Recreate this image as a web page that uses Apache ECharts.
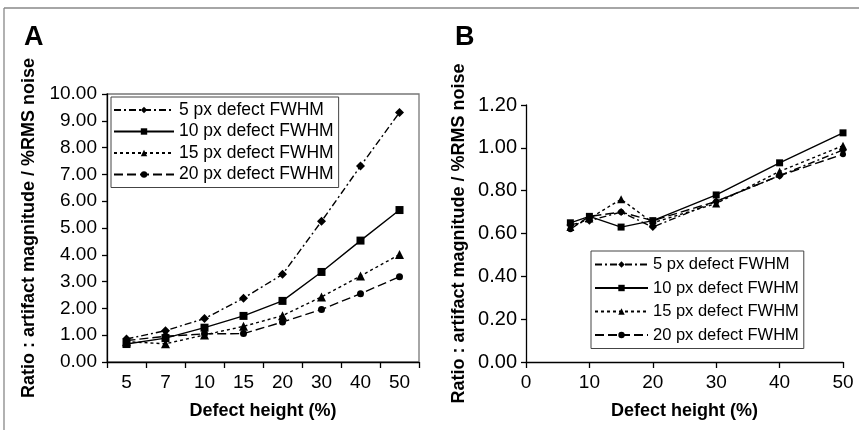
<!DOCTYPE html>
<html>
<head>
<meta charset="utf-8">
<script src="https://cdn.jsdelivr.net/npm/echarts@6/dist/echarts.min.js"></script>
<style>
html,body{margin:0;padding:0;background:#fff;}
#c{width:859px;height:430px;}
</style>
</head>
<body>
<div id="c"></div>
<script>
// ---- Data ----
const seriesNames = ['5 px defect FWHM', '10 px defect FWHM', '15 px defect FWHM', '20 px defect FWHM'];

// Panel A (categorical defect heights)
const heightsA = ['5', '7', '10', '15', '20', '30', '40', '50'];
const a5px  = [0.86, 1.17, 1.62, 2.38, 3.27, 5.25, 7.31, 9.31];
const a10px = [0.67, 0.89, 1.28, 1.72, 2.28, 3.36, 4.53, 5.67];
const a15px = [0.76, 0.68, 1.01, 1.33, 1.73, 2.43, 3.21, 4.01];
const a20px = [0.80, 0.96, 1.05, 1.06, 1.49, 1.96, 2.55, 3.18];
const yTicksA = [0, 1, 2, 3, 4, 5, 6, 7, 8, 9, 10];

// Panel B (numeric defect heights)
const heightsB = [7, 10, 15, 20, 30, 40, 50];
const b5px  = [0.64, 0.66, 0.70, 0.63, 0.75, 0.87, 0.99];
const b10px = [0.65, 0.68, 0.63, 0.66, 0.78, 0.93, 1.07];
const b15px = [0.63, 0.67, 0.76, 0.65, 0.74, 0.89, 1.01];
const b20px = [0.62, 0.68, 0.70, 0.66, 0.75, 0.87, 0.97];
const yTicksB = [0, 0.2, 0.4, 0.6, 0.8, 1.0, 1.2];
const xTicksB = [0, 10, 20, 30, 40, 50];

const yTitle = 'Ratio : artifact magnitude / %RMS noise';
const xTitle = 'Defect height (%)';

// ---- Styles ----
const FONT = '"Liberation Sans", Arial, sans-serif';
const styles = [
  { symbol: 'diamond', symbolSize: 9, dash: [7, 3, 2, 3] },
  { symbol: 'rect', symbolSize: 8, dash: 'solid' },
  { symbol: 'triangle', symbolSize: 9, dash: [3, 3] },
  { symbol: 'circle', symbolSize: 7, dash: [9, 4] }
];

const dataA = [a5px, a10px, a15px, a20px];
const dataB = [b5px, b10px, b15px, b20px];

const series = [];
seriesNames.forEach((n, i) => {
  series.push({
    name: n, type: 'line', xAxisIndex: 0, yAxisIndex: 0,
    data: dataA[i],
    symbol: styles[i].symbol, symbolSize: styles[i].symbolSize,
    lineStyle: { color: '#000', width: 1.4, type: styles[i].dash },
    itemStyle: { color: '#000' },
    animation: false
  });
});
seriesNames.forEach((n, i) => {
  series.push({
    name: n, type: 'line', xAxisIndex: 1, yAxisIndex: 1,
    data: heightsB.map((x, j) => [x, dataB[i][j]]),
    symbol: styles[i].symbol, symbolSize: styles[i].symbolSize - 1,
    lineStyle: { color: '#000', width: 1.4, type: styles[i].dash },
    itemStyle: { color: '#000' },
    animation: false
  });
});

const axisLine = { show: true, lineStyle: { color: '#000', width: 1.3 } };
const axisTickOut = { show: true, inside: false, length: 5, lineStyle: { color: '#000', width: 1.3 } };
const labelStyle = { color: '#000', fontSize: 19, fontFamily: FONT };
const nameStyle = { color: '#000', fontSize: 18, fontWeight: 'bold', fontFamily: FONT };

const option = {
  backgroundColor: '#fff',
  animation: false,
  textStyle: { fontFamily: FONT },
  title: [
    { text: 'A', left: 19, top: 19, textStyle: { fontSize: 27, fontWeight: 'bold', color: '#000', fontFamily: FONT } },
    { text: 'B', left: 450, top: 19, textStyle: { fontSize: 27, fontWeight: 'bold', color: '#000', fontFamily: FONT } }
  ],
  graphic: [
    { type: 'line', shape: { x1: 4, y1: 8, x2: 859, y2: 8 }, style: { stroke: '#888', lineWidth: 1.3 } },
    { type: 'line', shape: { x1: 4, y1: 8, x2: 4, y2: 430 }, style: { stroke: '#888', lineWidth: 1.3 } }
  ],
  legend: [
    {
      data: seriesNames, orient: 'vertical', left: 111, top: 97,
      itemWidth: 60, itemHeight: 8, itemGap: 3.5,
      padding: [4, 5, 4, 2],
      borderColor: '#444', borderWidth: 1,
      textStyle: { color: '#000', fontSize: 17.5, fontFamily: FONT }
    },
    {
      data: seriesNames, orient: 'vertical', left: 591, top: 251,
      itemWidth: 53, itemHeight: 8, itemGap: 6.5,
      padding: [5, 5, 5, 3],
      borderColor: '#444', borderWidth: 1,
      textStyle: { color: '#000', fontSize: 16.5, fontFamily: FONT }
    }
  ],
  grid: [
    { left: 107, right: 440, top: 94, bottom: 68, show: true, borderColor: '#777', borderWidth: 1.3, containLabel: false },
    { left: 526, right: 16, top: 105, bottom: 68, containLabel: false }
  ],
  xAxis: [
    {
      gridIndex: 0, type: 'category', data: heightsA, boundaryGap: true,
      axisLine: axisLine, axisTick: Object.assign({}, axisTickOut, { length: 6 }),
      axisLabel: Object.assign({}, labelStyle, { margin: 11, interval: 0 }),
      splitLine: { show: false },
      name: xTitle, nameLocation: 'middle', nameGap: 40, nameTextStyle: nameStyle
    },
    {
      gridIndex: 1, type: 'value', min: 0, max: 50, interval: 10,
      axisLine: axisLine, axisTick: Object.assign({}, axisTickOut, { length: 6 }),
      axisLabel: Object.assign({}, labelStyle, { margin: 11,
        customValues: xTicksB }),
      splitLine: { show: false },
      name: xTitle, nameLocation: 'middle', nameGap: 40, nameTextStyle: nameStyle
    }
  ],
  yAxis: [
    {
      gridIndex: 0, type: 'value', min: yTicksA[0], max: yTicksA[yTicksA.length - 1], interval: 1,
      axisLine: axisLine, axisTick: axisTickOut,
      axisLabel: Object.assign({}, labelStyle, { margin: 10, formatter: v => v.toFixed(2) }),
      splitLine: { show: false },
      name: yTitle, nameLocation: 'middle', nameGap: 69, nameTextStyle: nameStyle
    },
    {
      gridIndex: 1, type: 'value', min: yTicksB[0], max: yTicksB[yTicksB.length - 1], interval: 0.2,
      axisLine: axisLine, axisTick: axisTickOut,
      axisLabel: Object.assign({}, labelStyle, { margin: 9, fontSize: 20, formatter: v => v.toFixed(2) }),
      splitLine: { show: false },
      name: yTitle, nameLocation: 'middle', nameGap: 58, nameTextStyle: nameStyle
    }
  ],
  series: series
};

const chart = echarts.init(document.getElementById('c'), null, { renderer: 'canvas' });
chart.setOption(option);
</script>
</body>
</html>
